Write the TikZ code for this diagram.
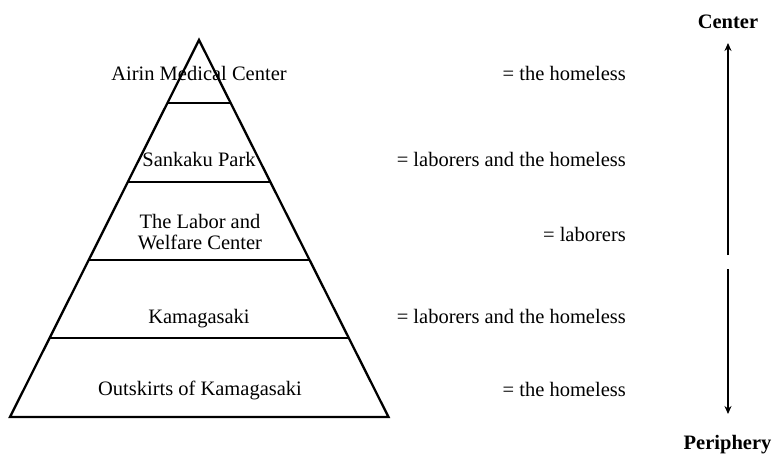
\documentclass[tikz,border=0pt]{standalone}
\usepackage{fontspec}
\setmainfont{Liberation Serif}
\usetikzlibrary{calc,arrows.meta}
\begin{document}
\begin{tikzpicture}[x=1pt,y=-1pt,
  frame/.style={line width=2.3pt,line join=miter},
  tier/.style={line width=2.3pt},
  lbl/.style={font=\fontsize{20.5}{21}\selectfont,inner sep=0pt,align=center},
  eqlbl/.style={font=\fontsize{20.5}{21}\selectfont,inner sep=0pt,anchor=base east},
  axislbl/.style={font=\fontsize{20.5}{21}\selectfont\bfseries,inner sep=0pt,anchor=base},
  axis/.style={line width=2pt,-{Stealth[length=8pt,width=7pt]}}]
\useasboundingbox (0,0) rectangle (773,457);

% pyramid outline
\coordinate (apex) at (199,40);
\coordinate (bl) at (10,417);
\coordinate (br) at (388.5,417);
\draw[frame] (apex) -- (bl) -- (br) -- cycle;

% tier boundaries
\foreach \n/\t in {a/0.1671,b/0.3767,c/0.5836,d/0.7905}{
  \coordinate (\n L) at ($(apex)!\t!(bl)$);
  \coordinate (\n R) at ($(apex)!\t!(br)$);
  \draw[tier] (\n L) -- (\n R);
}

% tier names (base of a two-line node is its last line)
\node[lbl,anchor=base] (airin) at (199,81) {Airin Medical Center};
\node[lbl,anchor=base] (sankaku) at (199,167) {Sankaku Park};
\node[lbl,anchor=base] (labor) at (200,249) {The Labor and\\Welfare Center};
\node[lbl,anchor=base] (kama) at (199,323) {Kamagasaki};
\node[lbl,anchor=base] (outsk) at (200,395) {Outskirts of Kamagasaki};

% who is found at each place
\node[eqlbl] (e1) at (626,81) {= the homeless};
\node[eqlbl] (e2) at (626,167) {= laborers and the homeless};
\node[eqlbl] (e3) at (626,241) {= laborers};
\node[eqlbl] (e4) at (626,323) {= laborers and the homeless};
\node[eqlbl] (e5) at (626,396) {= the homeless};

% center--periphery axis
\node[axislbl] (center) at (728,29) {Center};
\node[axislbl] (periph) at (727.5,449) {Periphery};
\coordinate (upstart) at (728,255);
\coordinate (uptip) at (728,43);
\coordinate (downstart) at (728,269);
\coordinate (downtip) at (728,414);
\draw[axis] (upstart) -- (uptip);
\draw[axis] (downstart) -- (downtip);
\end{tikzpicture}
\end{document}
